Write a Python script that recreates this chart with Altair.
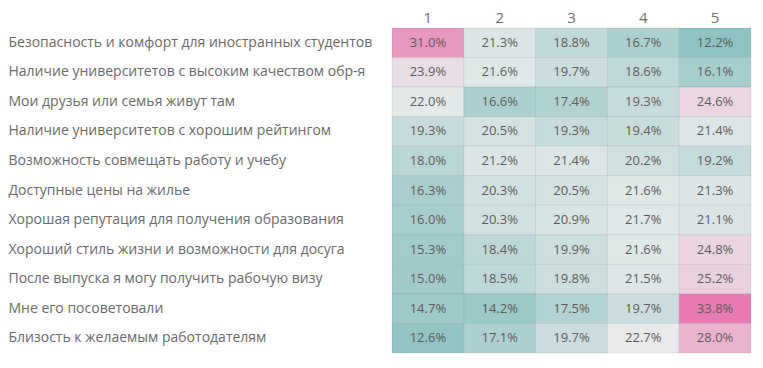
import altair as alt
import pandas as pd

rows = [
    "Безопасность и комфорт для иностранных студентов",
    "Наличие университетов с высоким качеством обр-я",
    "Мои друзья или семья живут там",
    "Наличие университетов с хорошим рейтингом",
    "Возможность совмещать работу и учебу",
    "Доступные цены на жилье",
    "Хорошая репутация для получения образования",
    "Хороший стиль жизни и возможности для досуга",
    "После выпуска я могу получить рабочую визу",
    "Мне его посоветовали",
    "Близость к желаемым работодателям",
]
cols = ["1", "2", "3", "4", "5"]
values = [
    [31.0, 21.3, 18.8, 16.7, 12.2],
    [23.9, 21.6, 19.7, 18.6, 16.1],
    [22.0, 16.6, 17.4, 19.3, 24.6],
    [19.3, 20.5, 19.3, 19.4, 21.4],
    [18.0, 21.2, 21.4, 20.2, 19.2],
    [16.3, 20.3, 20.5, 21.6, 21.3],
    [16.0, 20.3, 20.9, 21.7, 21.1],
    [15.3, 18.4, 19.9, 21.6, 24.8],
    [15.0, 18.5, 19.8, 21.5, 25.2],
    [14.7, 14.2, 17.5, 19.7, 33.8],
    [12.6, 17.1, 19.7, 22.7, 28.0],
]

records = []
for r, vals in zip(rows, values):
    for c, v in zip(cols, vals):
        records.append({"row": r, "col": c, "value": v, "label": f"{v:.1f}%"})
df = pd.DataFrame(records)

x = alt.X("col:N", sort=cols, title=None,
          scale=alt.Scale(paddingInner=0, paddingOuter=0),
          axis=alt.Axis(orient="top", ticks=False, domain=False, labelAngle=0,
                        labelFontSize=15, labelColor="#707070", labelFont="Open Sans",
                        labelPadding=3))
y = alt.Y("row:N", sort=rows, title=None,
          scale=alt.Scale(paddingInner=0, paddingOuter=0),
          axis=alt.Axis(ticks=False, domain=False, labelAlign="left",
                        labelPadding=384, labelFontSize=14, labelColor="#6a6a6a",
                        labelFont="Open Sans", labelLimit=400))

base = alt.Chart(df).encode(x=x, y=y)

rect = base.mark_rect(stroke="#000000", strokeOpacity=0.07, strokeWidth=1).encode(
    color=alt.Color("value:Q", legend=None,
                    scale=alt.Scale(domain=[12, 17, 22.5, 34], interpolate="rgb",
                                    range=["#8fc1c1", "#aed0d0", "#e9ebec", "#e879b0"]))
)
text = base.mark_text(fontSize=13, font="Open Sans", color="#5c5c5c").encode(
    text="label:N"
)

chart = (rect + text).properties(
    width=359, height=325,
    autosize=alt.AutoSizeParams(type="none"),
    padding={"left": 384, "top": 20, "right": 4, "bottom": 8},
).configure_view(stroke=None)

chart.save("out.html", embed_options={"renderer": "svg", "actions": False})
